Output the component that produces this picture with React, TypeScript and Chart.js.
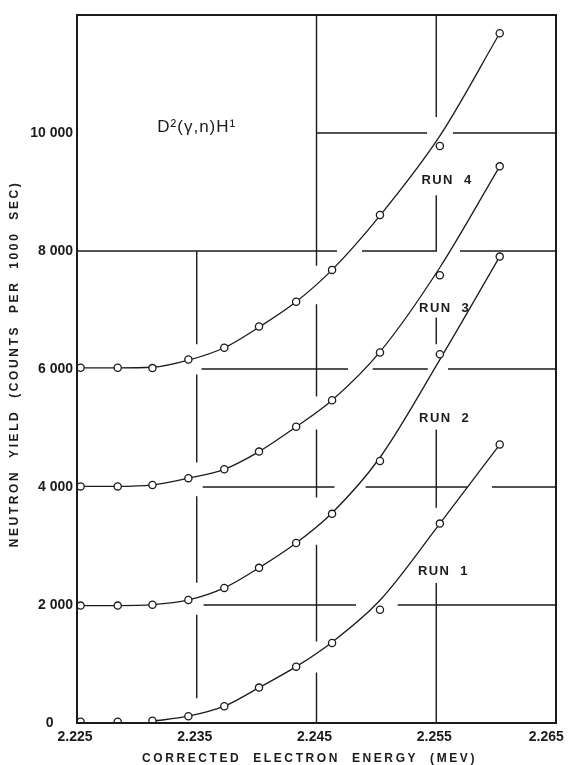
import React, { useEffect, useRef } from 'react';
import { Chart, registerables } from 'chart.js';
Chart.register(...registerables);

// Measured points (corrected electron energy in MeV, neutron yield in counts per 1000 sec)
const energy = [2.2253, 2.2284, 2.2313, 2.2343, 2.2373, 2.2402, 2.2433, 2.2463, 2.2503, 2.2553, 2.2603];
const run1 = [20, 20, 40, 115, 285, 600, 955, 1355, 1920, 3380, 4720];
const run2 = [1990, 1990, 2005, 2085, 2290, 2630, 3050, 3545, 4440, 6250, 7905];
const run3 = [4010, 4010, 4035, 4150, 4300, 4600, 5020, 5470, 6280, 7590, 9435];
const run4 = [6020, 6020, 6015, 6160, 6360, 6720, 7140, 7680, 8610, 9780, 11690];

// Smooth hand-drawn curves
const fitEnergy1 = [2.2313, 2.2343, 2.2373, 2.2402, 2.2433, 2.2463, 2.2503, 2.2553, 2.2603];
const fit1 = [30, 115, 285, 600, 955, 1370, 2080, 3380, 4720];
const fitEnergy = energy;
const fit2 = [1990, 1990, 2005, 2085, 2290, 2630, 3050, 3560, 4500, 6160, 7905];
const fit3 = [4010, 4010, 4035, 4150, 4300, 4600, 5020, 5470, 6290, 7720, 9435];
const fit4 = [6020, 6020, 6030, 6150, 6360, 6710, 7140, 7680, 8600, 9950, 11690];

const xTicks = [2.225, 2.235, 2.245, 2.255, 2.265];
const yTicks = [0, 2000, 4000, 6000, 8000, 10000];

const runNames = ['RUN  1', 'RUN  2', 'RUN  3', 'RUN  4'];
const runLabelX = [2.2556, 2.2557, 2.2557, 2.2559];
const runLabelY = [2569, 5161, 7024, 9190];

const reactionText = 'D²(γ,n)H¹';
const reactionX = 2.235;
const reactionY = 10100;

const xTitle = 'CORRECTED  ELECTRON  ENERGY  (MEV)';
const yTitle = 'NEUTRON  YIELD  (COUNTS  PER  1000  SEC)';

// Graph-paper rulings (broken where curves and labels pass), in data units
const vSegments: [number, number, number][] = [
  [2.235, 8000, 6418], [2.235, 5908, 4414], [2.235, 3842, 2377], [2.235, 1834, 420],
  [2.245, 12000, 7750], [2.245, 7097, 5535], [2.245, 4975, 3820], [2.245, 3022, 1380], [2.245, 854, 0],
  [2.255, 12000, 10270], [2.255, 8947, 8000], [2.255, 6871, 6418], [2.255, 4975, 3650], [2.255, 2372, 0],
];
const hSegments: [number, number, number][] = [
  [10000, 2.245, 2.25423], [10000, 2.2564, 2.265],
  [8000, 2.225, 2.24671], [8000, 2.2488, 2.25506], [8000, 2.25698, 2.265],
  [6000, 2.2354, 2.24763], [6000, 2.24969, 2.2543], [6000, 2.25598, 2.265],
  [4000, 2.2355, 2.2465], [4000, 2.2491, 2.25765], [4000, 2.25965, 2.265],
  [2000, 2.23557, 2.2483], [2000, 2.25178, 2.265],
];

const INK = '#1b1b1b';
const FONT = "'Liberation Sans', Arial, sans-serif";

const decor = {
  id: 'decor',
  beforeDatasetsDraw(chart: any) {
    const { ctx, scales } = chart;
    const xs = scales.x, ys = scales.y;
    ctx.save();
    ctx.strokeStyle = INK;
    ctx.lineWidth = 1.4;
    ctx.lineCap = 'butt';
    ctx.beginPath();
    for (const [x, y1, y2] of vSegments) {
      const px = xs.getPixelForValue(x);
      ctx.moveTo(px, ys.getPixelForValue(y1));
      ctx.lineTo(px, ys.getPixelForValue(y2));
    }
    for (const [y, x1, x2] of hSegments) {
      const py = ys.getPixelForValue(y);
      ctx.moveTo(xs.getPixelForValue(x1), py);
      ctx.lineTo(xs.getPixelForValue(x2), py);
    }
    ctx.stroke();
    ctx.restore();
  },
  afterDatasetsDraw(chart: any) {
    const { ctx, scales, chartArea } = chart;
    const xs = scales.x, ys = scales.y;
    ctx.save();
    ctx.strokeStyle = INK;
    ctx.lineWidth = 2;
    ctx.strokeRect(chartArea.left, chartArea.top, chartArea.right - chartArea.left, chartArea.bottom - chartArea.top);

    ctx.fillStyle = INK;
    ctx.textAlign = 'center';
    ctx.textBaseline = 'middle';
    (ctx as any).letterSpacing = '1.4px';
    ctx.font = `bold 13px ${FONT}`;
    runNames.forEach((t, i) => {
      ctx.fillText(t, xs.getPixelForValue(runLabelX[i]), ys.getPixelForValue(runLabelY[i]));
    });

    (ctx as any).letterSpacing = '1px';
    ctx.font = `17px ${FONT}`;
    ctx.fillText(reactionText, xs.getPixelForValue(reactionX), ys.getPixelForValue(reactionY));

    (ctx as any).letterSpacing = '2.6px';
    ctx.font = `bold 12px ${FONT}`;
    const cx = (chartArea.left + chartArea.right) / 2 - 7;
    ctx.fillText(xTitle, cx, chartArea.bottom + 36);

    ctx.translate(15, (chartArea.top + chartArea.bottom) / 2 - 5);
    ctx.rotate(-Math.PI / 2);
    ctx.fillText(yTitle, 0, 0);
    ctx.restore();
  },
};

const fmtY = (v: number) => (v === 0 ? '0     ' : String(v).replace(/\B(?=(\d{3})+(?!\d))/g, ' '));
const fmtX = (v: number) => (v === xTicks[xTicks.length - 1] ? v.toFixed(3) + '    ' : v.toFixed(3));

export default function App() {
  const ref = useRef<HTMLCanvasElement | null>(null);
  useEffect(() => {
    if (!ref.current) return;
    const pts = (xs: number[], ys: number[]) => xs.map((x, i) => ({ x, y: ys[i] }));
    const pointStyle = {
      showLine: false,
      pointRadius: 3.6,
      pointBorderWidth: 1.3,
      pointBackgroundColor: '#ffffff',
      pointBorderColor: INK,
      order: 1,
      clip: { left: 6, right: 6, top: 6, bottom: 0 },
    };
    const lineStyle = {
      showLine: true,
      pointRadius: 0,
      borderColor: INK,
      borderWidth: 1.3,
      cubicInterpolationMode: 'monotone' as const,
      order: 2,
    };
    const chart = new Chart(ref.current, {
      type: 'scatter',
      data: {
        datasets: [
          { label: 'Run 1', data: pts(energy, run1), ...pointStyle },
          { label: 'Run 2', data: pts(energy, run2), ...pointStyle },
          { label: 'Run 3', data: pts(energy, run3), ...pointStyle },
          { label: 'Run 4', data: pts(energy, run4), ...pointStyle },
          { label: 'Fit 1', data: pts(fitEnergy1, fit1), ...lineStyle },
          { label: 'Fit 2', data: pts(fitEnergy, fit2), ...lineStyle },
          { label: 'Fit 3', data: pts(fitEnergy, fit3), ...lineStyle },
          { label: 'Fit 4', data: pts(fitEnergy, fit4), ...lineStyle },
        ] as any,
      },
      options: {
        animation: false,
        responsive: false,
        layout: { padding: { top: 15, right: 12, left: 0, bottom: 0 } },
        plugins: { legend: { display: false }, tooltip: { enabled: false } },
        scales: {
          x: {
            type: 'linear',
            min: 2.225,
            max: 2.265,
            grid: { display: false, drawTicks: false },
            border: { display: false },
            afterBuildTicks: (s: any) => { s.ticks = xTicks.map((v) => ({ value: v })); },
            afterFit: (s: any) => { s.height = 42; s.paddingLeft = 0; s.paddingRight = 0; },
            ticks: {
              padding: 6,
              labelOffset: -2,
              color: INK,
              font: { family: FONT, size: 14, weight: 'bold' },
              maxRotation: 0,
              autoSkip: false,
              callback: (v: any) => fmtX(Number(v)),
            },
          },
          y: {
            type: 'linear',
            min: 0,
            max: 12000,
            grid: { display: false, drawTicks: false },
            border: { display: false },
            afterBuildTicks: (s: any) => { s.ticks = yTicks.map((v) => ({ value: v })); },
            afterFit: (s: any) => { s.width = 77; s.paddingTop = 0; s.paddingBottom = 0; },
            ticks: {
              padding: 4,
              color: INK,
              font: { family: FONT, size: 14, weight: 'bold' },
              callback: (v: any) => fmtY(Number(v)),
            },
          },
        },
      } as any,
      plugins: [decor],
    });
    return () => chart.destroy();
  }, []);
  return (
    <div style={{ position: 'absolute', left: 0, top: 0, width: 568, height: 765, background: '#ffffff' }}>
      <canvas ref={ref} width={568} height={765} style={{ display: 'block' }} />
    </div>
  );
}
